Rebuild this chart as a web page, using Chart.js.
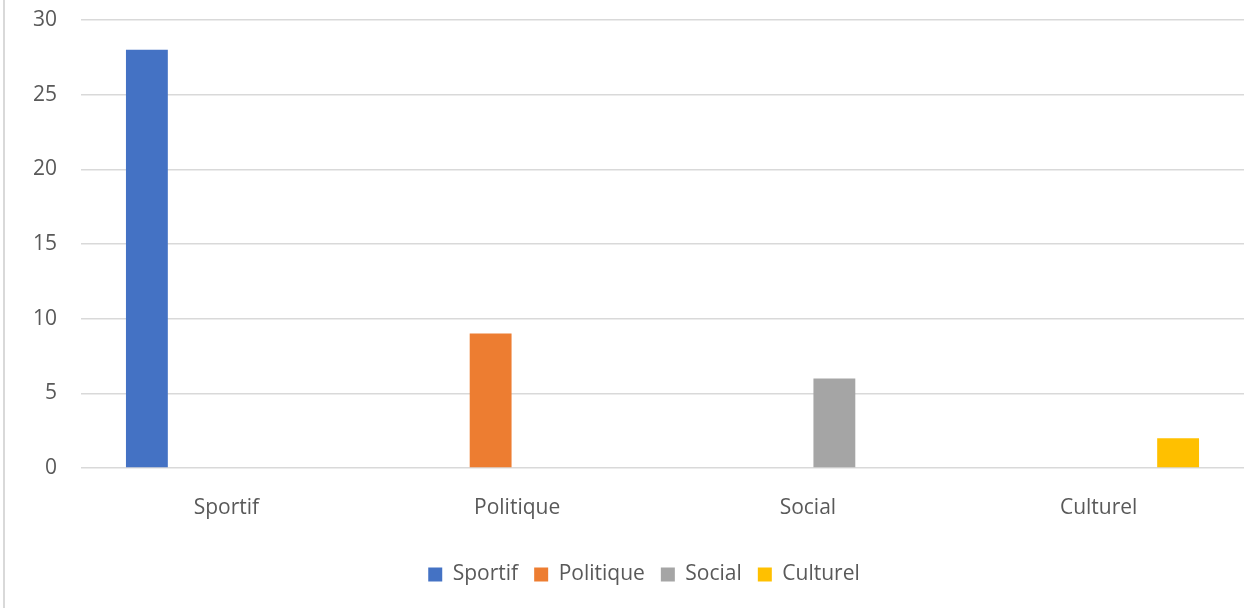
<!DOCTYPE html>
<html>
<head>
<meta charset="utf-8">
<script src="https://cdn.jsdelivr.net/npm/chart.js@4/dist/chart.umd.min.js"></script>
<style>
  body { margin: 0; background: #fff; }
  #wrap { position: relative; width: 1247px; height: 608px; }
  #edge { position: absolute; left: 3px; top: 0; width: 2px; height: 608px; background: #d9d9d9; }
  #chart { position: absolute; left: 0; top: 0; }
</style>
</head>
<body>
<div id="wrap">
  <div id="edge"></div>
  <canvas id="chart" width="1247" height="608"></canvas>
</div>
<script>
// categories and one series per category (Excel-style clustered columns)
const categories = ['Sportif', 'Politique', 'Social', 'Culturel'];
const sportif = [28, null, null, null];
const politique = [null, 9, null, null];
const social = [null, null, 6, null];
const culturel = [null, null, null, 2];
const seriesNames = ['Sportif', 'Politique', 'Social', 'Culturel'];
const seriesColors = ['#4472C4', '#ED7D31', '#A5A5A5', '#FFC000'];
const yTicks = [0, 5, 10, 15, 20, 25, 30];

const textColor = '#595959';
const fontFamily = '"Open Sans", "Liberation Sans", sans-serif';

const datasets = [sportif, politique, social, culturel].map((values, i) => ({
    label: seriesNames[i],
    data: values,
    backgroundColor: seriesColors[i],
    borderWidth: 0,
    categoryPercentage: 0.729,
    barPercentage: 0.79
}));

// nudge the legend a little to the right, under the plot
const legendShift = {
    id: 'legendShift',
    afterLayout(chart) {
        if (chart.legend) {
            chart.legend.left += 22;
            chart.legend.right += 22;
        }
    }
};

new Chart(document.getElementById('chart'), {
    type: 'bar',
    data: {
        labels: categories,
        datasets: datasets
    },
    plugins: [legendShift],
    options: {
        responsive: false,
        animation: false,
        layout: {
            padding: { top: 20, right: 3, bottom: 13, left: 0 }
        },
        plugins: {
            tooltip: { enabled: false },
            legend: {
                position: 'bottom',
                labels: {
                    boxWidth: 14,
                    boxHeight: 14,
                    padding: 16,
                    color: textColor,
                    font: { family: fontFamily, size: 21 }
                }
            }
        },
        scales: {
            x: {
                grid: { display: false },
                border: { display: false },
                ticks: {
                    color: textColor,
                    padding: 19,
                    font: { family: fontFamily, size: 21 }
                },
                afterFit: function(scale) { scale.height = 80; }
            },
            y: {
                min: 0,
                max: 30,
                afterBuildTicks: function(scale) {
                    scale.ticks = yTicks.map(v => ({ value: v }));
                },
                grid: {
                    color: '#d9d9d9',
                    lineWidth: 1.5,
                    drawTicks: false
                },
                border: { display: false },
                ticks: {
                    color: textColor,
                    padding: 24,
                    font: { family: fontFamily, size: 21 }
                },
                afterFit: function(scale) {
                    scale.width = 81;
                    scale.paddingTop = 0;
                    scale.paddingBottom = 0;
                }
            }
        }
    }
});
</script>
</body>
</html>
